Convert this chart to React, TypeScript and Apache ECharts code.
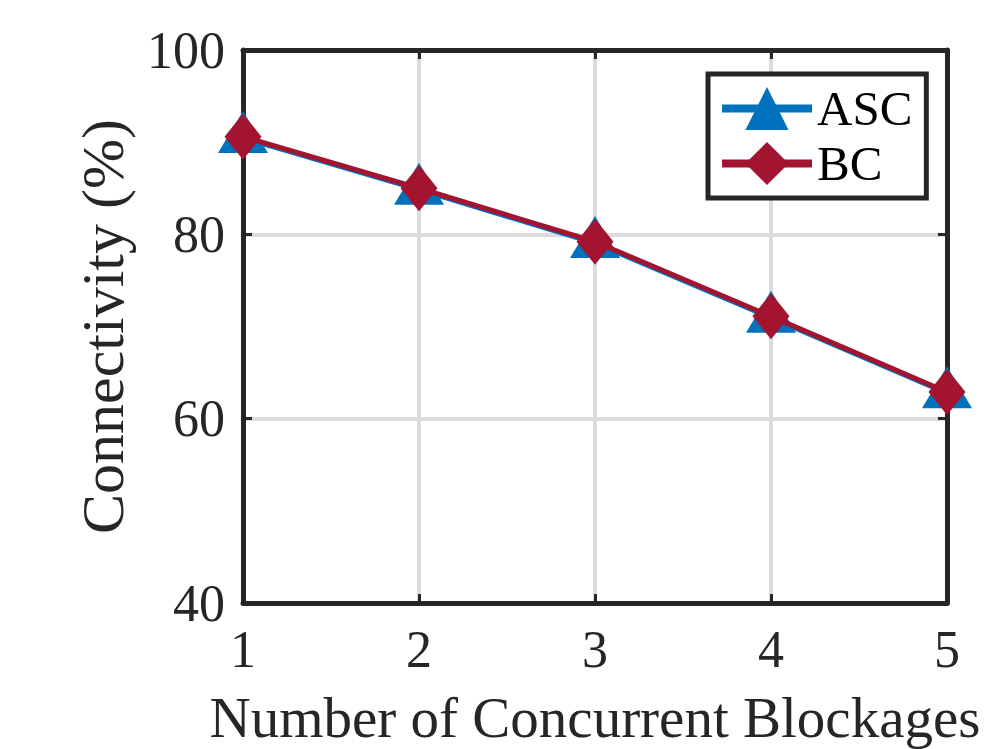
import React, { useEffect, useRef } from "react";
import * as echarts from "echarts";

const xValues = [1, 2, 3, 4, 5];
const ascValues = [90.45, 84.85, 79.05, 70.95, 62.75];
const bcValues = [90.6, 85.0, 79.2, 71.1, 62.9];
const seriesNames = ["ASC", "BC"];
const xTitle = "Number of Concurrent Blockages";
const yTitle = "Connectivity (%)";

const FONT = '"Liberation Serif", "Times New Roman", serif';
const DARK = "#262626";

export default function App() {
  const ref = useRef<HTMLDivElement>(null);
  useEffect(() => {
    if (!ref.current) return;
    const chart = echarts.init(ref.current, undefined, { renderer: "svg" });
    const axisCommon = {
      type: "value" as const,
      axisLine: { show: true, lineStyle: { color: DARK, width: 5 } },
      axisTick: { show: true, inside: true, length: 9, lineStyle: { color: DARK, width: 3 } },
    };
    chart.setOption({
      animation: false,
      backgroundColor: "#ffffff",
      textStyle: { fontFamily: FONT },
      grid: {
        left: 243,
        right: 53,
        top: 50,
        bottom: 146,
        containLabel: false,
        outerBoundsMode: "none",
      },
      legend: {
        left: 708,
        top: 74,
        orient: "vertical",
        padding: [10, 14, 10, 10],
        itemWidth: 90,
        itemHeight: 54,
        itemGap: 6,
        borderColor: DARK,
        borderWidth: 5,
        backgroundColor: "#ffffff",
        lineStyle: { width: 8 },
        textStyle: { fontFamily: FONT, fontSize: 49, color: "#000000" },
        data: seriesNames,
      },
      xAxis: [
        {
          ...axisCommon,
          min: 1,
          max: 5,
          interval: 1,
          position: "bottom",
          axisLabel: { fontFamily: FONT, fontSize: 52, color: DARK, margin: 20 },
          splitLine: { show: true, lineStyle: { color: "#dcdcdc", width: 4 } },
          name: xTitle,
          nameLocation: "middle",
          nameGap: 86,
          nameTextStyle: { fontFamily: FONT, fontSize: 57, color: DARK },
        },
        {
          ...axisCommon,
          min: 1,
          max: 5,
          interval: 1,
          position: "top",
          axisLabel: { show: false },
          splitLine: { show: false },
        },
      ],
      yAxis: [
        {
          ...axisCommon,
          min: 40,
          max: 100,
          interval: 20,
          position: "left",
          axisLabel: { fontFamily: FONT, fontSize: 52, color: DARK, margin: 18 },
          splitLine: { show: true, lineStyle: { color: "#dcdcdc", width: 4 } },
          name: yTitle,
          nameLocation: "middle",
          nameGap: 110,
          nameRotate: 90,
          nameTextStyle: { fontFamily: FONT, fontSize: 60, color: DARK },
        },
        {
          ...axisCommon,
          min: 40,
          max: 100,
          interval: 20,
          position: "right",
          axisLabel: { show: false },
          splitLine: { show: false },
        },
      ],
      series: [
        {
          name: seriesNames[0],
          type: "line",
          data: xValues.map((x, i) => [x, ascValues[i]]),
          symbol: "triangle",
          symbolSize: [50, 42],
          symbolOffset: [0, -6],
          clip: false,
          lineStyle: { color: "#0072BD", width: 5 },
          itemStyle: { color: "#0072BD" },
          z: 2,
        },
        {
          name: seriesNames[1],
          type: "line",
          data: xValues.map((x, i) => [x, bcValues[i]]),
          symbol: "diamond",
          symbolSize: [37, 46],
          clip: false,
          lineStyle: { color: "#A2142F", width: 5 },
          itemStyle: { color: "#A2142F" },
          z: 3,
        },
      ],
    });
    return () => chart.dispose();
  }, []);
  return (
    <div
      ref={ref}
      style={{ position: "fixed", left: 0, top: 0, width: 1000, height: 749, background: "#fff" }}
    />
  );
}
